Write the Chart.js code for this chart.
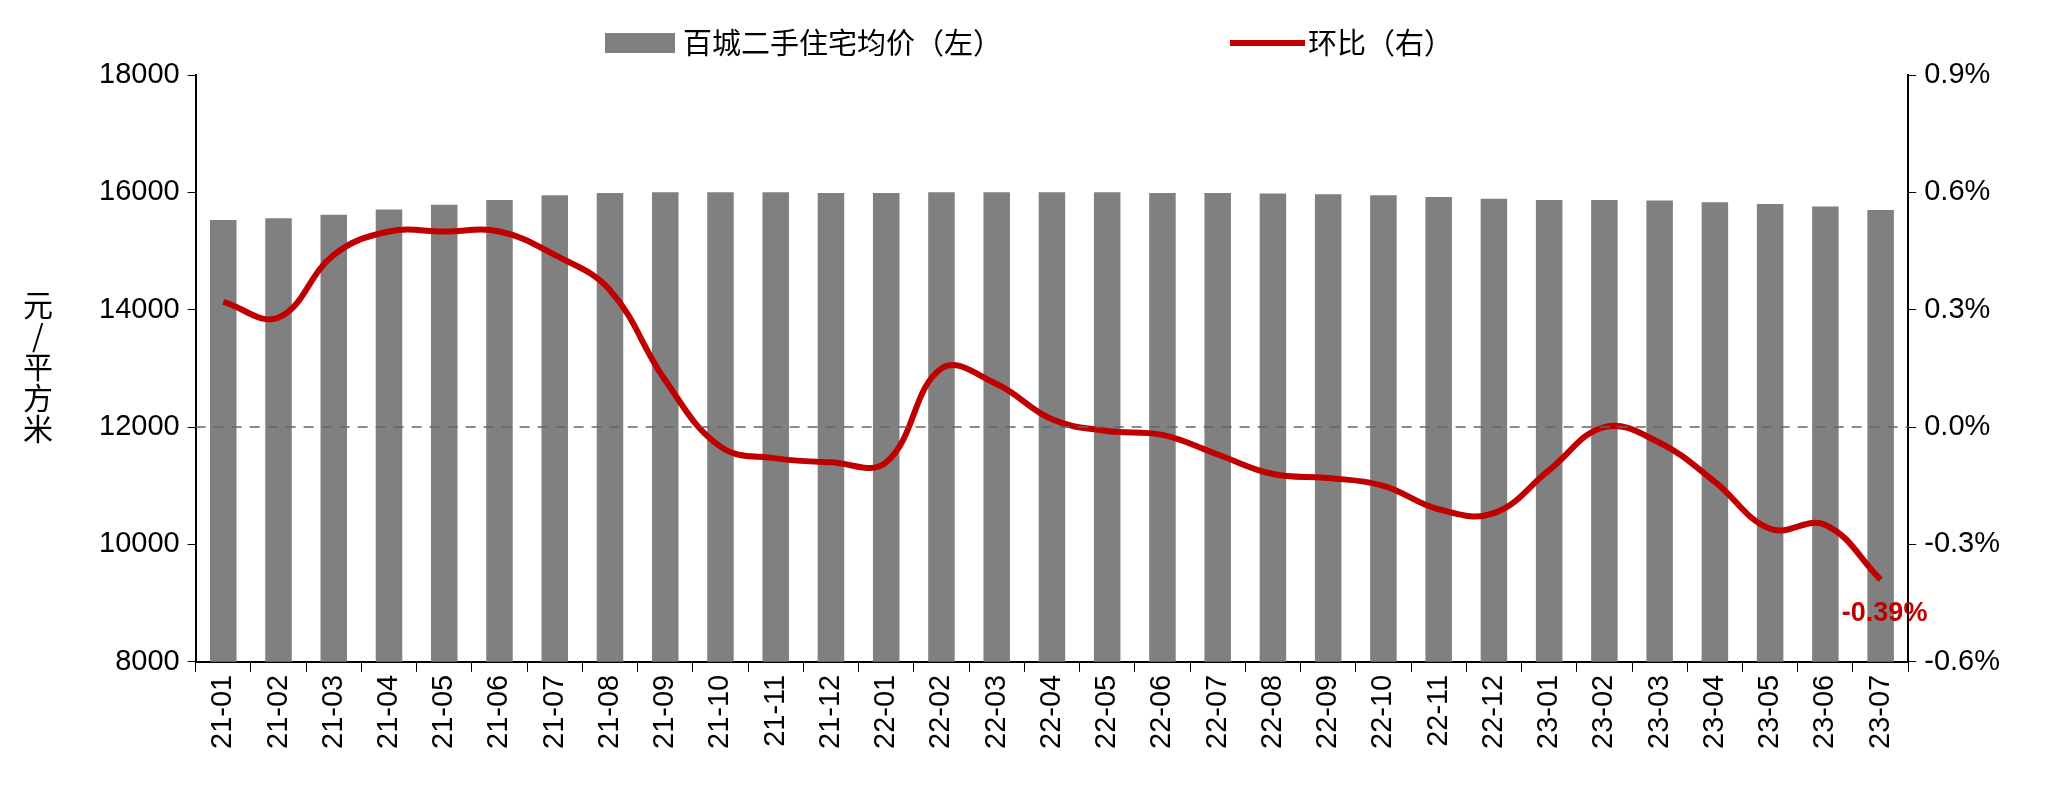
<!DOCTYPE html>
<html><head><meta charset="utf-8">
<script src="https://cdn.jsdelivr.net/npm/chart.js"></script>
<style>html,body{margin:0;background:#fff}#w{width:2060px;height:800px}</style>
</head><body><div id="w"><canvas id="c"></canvas></div>
<script>
const categories=["21-01","21-02","21-03","21-04","21-05","21-06","21-07","21-08","21-09","21-10","21-11","21-12","22-01","22-02","22-03","22-04","22-05","22-06","22-07","22-08","22-09","22-10","22-11","22-12","23-01","23-02","23-03","23-04","23-05","23-06","23-07"];
const priceValues=[15530,15560,15620,15710,15790,15870,15950,15990,16000,16000,16000,15990,15990,16000,16000,16000,16000,15990,15990,15980,15970,15950,15920,15890,15870,15870,15860,15830,15800,15760,15700];
const momValues=[0.32,0.28,0.44,0.50,0.50,0.50,0.44,0.35,0.12,-0.05,-0.08,-0.09,-0.09,0.15,0.11,0.02,-0.01,-0.02,-0.07,-0.12,-0.13,-0.15,-0.21,-0.22,-0.11,0.0,-0.04,-0.14,-0.26,-0.25,-0.39];
const leftTicks=[8000,10000,12000,14000,16000,18000];
const rightTicks=[-0.6,-0.3,0,0.3,0.6,0.9];
const F="'Liberation Sans', Arial, sans-serif";
const extra={id:'extra',afterDraw(ch){
  const c=ch.ctx,ys=ch.scales.y,a=ch.chartArea;
  c.save();
  c.setLineDash([10,8]);c.strokeStyle='#666';c.lineWidth=1.5;
  const y0=ys.getPixelForValue(12000);c.beginPath();c.moveTo(a.left,y0);c.lineTo(a.right,y0);c.stroke();c.setLineDash([]);
  c.fillStyle='#000';c.font="30px 'Noto Sans CJK SC'";c.textAlign='center';c.textBaseline='middle';
  ["元","/","平","方","米"].forEach((t,i)=>c.fillText(t,38,305+i*31));
  const m=ch.getDatasetMeta(1).data[30];
  c.fillStyle='#c00000';c.font="bold 27px "+F;c.textAlign='center';c.fillText('-0.39%',m.x+4,m.y+34);
  const lx=605,ly=43;
  c.fillStyle='#808080';c.fillRect(lx,ly-10,70,20);
  c.fillStyle='#000';c.font="29px 'Noto Sans CJK SC'";c.textAlign='left';c.fillText('百城二手住宅均价（左）',lx+78,ly);
  c.strokeStyle='#c00000';c.lineWidth=6;c.beginPath();c.moveTo(1230,ly);c.lineTo(1305,ly);c.stroke();
  c.fillText('环比（右）',1308,ly);
  c.restore();
}};
Chart.register(extra);
new Chart(document.getElementById('c'),{
 data:{labels:categories,datasets:[
  {type:'bar',label:'百城二手住宅均价（左）',data:priceValues,backgroundColor:'#808080',yAxisID:'y',barPercentage:0.48,categoryPercentage:1,order:2},
  {type:'line',label:'环比（右）',data:momValues,borderColor:'#c00000',backgroundColor:'#c00000',borderWidth:6,pointRadius:0,tension:0.4,yAxisID:'y1',order:1}
 ]},
 options:{responsive:true,maintainAspectRatio:false,animation:false,
  layout:{padding:{left:91,right:52,top:75,bottom:48}},
  plugins:{legend:{display:false},tooltip:{enabled:false}},
  scales:{
   x:{grid:{display:true,drawOnChartArea:false,color:'#000',tickLength:10},border:{color:'#000',width:2},
      ticks:{color:'#000',font:{family:F,size:29},maxRotation:90,minRotation:90,autoSkip:false}},
   y:{position:'left',min:8000,max:18000,afterBuildTicks:s=>{s.ticks=leftTicks.map(v=>({value:v}))},
      grid:{drawOnChartArea:false,color:'#000',tickLength:8},border:{color:'#000',width:2},
      ticks:{color:'#000',font:{family:F,size:29},padding:8,callback:v=>String(v)}},
   y1:{position:'right',min:-0.6,max:0.9,afterBuildTicks:s=>{s.ticks=rightTicks.map(v=>({value:v}))},
      grid:{drawOnChartArea:false,color:'#000',tickLength:8},border:{color:'#000',width:2},
      ticks:{color:'#000',font:{family:F,size:29},padding:8,callback:v=>v.toFixed(1)+'%'}}
  }}
});
</script></body></html>
